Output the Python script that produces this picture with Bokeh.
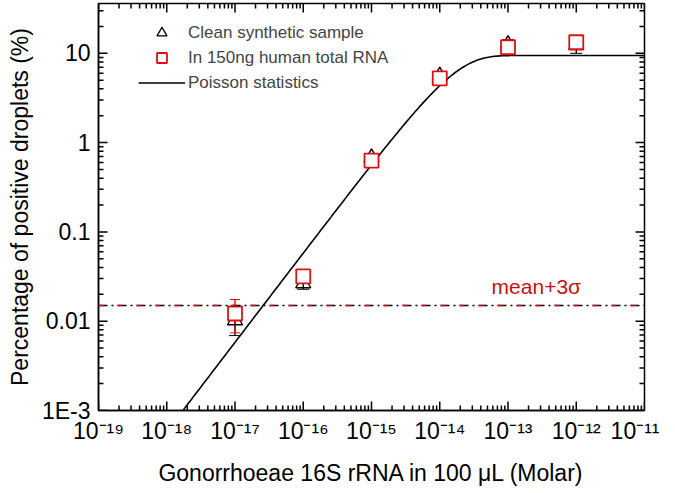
import numpy as np
from bokeh.plotting import figure
from bokeh.models import (Legend, LegendItem, Span, Label, Whisker, FixedTicker,
                          ColumnDataSource, Range1d, CustomJSTickFormatter)
from bokeh.embed import file_html
from bokeh.resources import INLINE

# ---- data ----
conc = [1e-17, 1e-16, 1e-15, 1e-14, 1e-13, 1e-12]          # Molar
clean = [0.0102, 0.0265, 0.68, 5.6, 12.6, 12.3]             # % positive droplets
clean_lo = [0.0069, 0.0228, 0.63, 5.3, 11.5, 10.0]
clean_hi = [0.0130, 0.0290, 0.74, 6.0, 14.2, 13.5]
rna = [0.0122, 0.0317, 0.63, 5.25, 11.7, 13.3]
rna_lo = [0.0074, 0.0295, 0.59, 5.0, 11.0, 12.2]
rna_hi = [0.0175, 0.0345, 0.68, 5.6, 12.5, 14.6]
threshold = 0.015        # mean + 3 sigma (%)
plateau = 9.45           # Poisson saturation level (%)
slope = 5.8e14           # initial slope (% per Molar)

x_major = [1e-19, 1e-18, 1e-17, 1e-16, 1e-15, 1e-14, 1e-13, 1e-12, 1e-11]
x_labels = ["10\u207b\u00b9\u2079", "10\u207b\u00b9\u2078", "10\u207b\u00b9\u2077",
            "10\u207b\u00b9\u2076", "10\u207b\u00b9\u2075", "10\u207b\u00b9\u2074",
            "10\u207b\u00b9\u00b3", "10\u207b\u00b9\u00b2", "10\u207b\u00b9\u00b9"]
y_major = [1e-3, 1e-2, 1e-1, 1, 10]
y_labels = ["1E-3", "0.01", "0.1", "1", "10"]
x_lim = (1e-19, 1e-11)
y_lim = (1e-3, 10 ** 1.558)

FONT = "Liberation Sans"

# Poisson model curve
xc = np.logspace(-19, -11, 400)
yc = plateau * (1 - np.exp(-slope / plateau * xc))

p = figure(width=659, height=490, x_axis_type="log", y_axis_type="log",
           x_range=Range1d(*x_lim), y_range=Range1d(*y_lim),
           output_backend="svg", toolbar_location=None, tools="",
           min_border_left=98, min_border_right=15, min_border_top=3,
           min_border_bottom=80)
p.grid.visible = False
p.outline_line_color = "black"
p.outline_line_width = 1.5
p.background_fill_color = "white"
p.border_fill_color = "white"

x_minor = [m * 10.0 ** k for k in range(-19, -11) for m in range(2, 10)]
y_minor = [m * 10.0 ** k for k in range(-3, 2) for m in range(2, 10)]

LABEL_JS = """
let best = 0, bd = Infinity;
for (let i = 0; i < vals.length; i++) {
  const d = Math.abs(Math.log10(tick) - Math.log10(vals[i]));
  if (d < bd) { bd = d; best = i; }
}
return bd < 0.01 ? labels[best] : "";
"""


def style(ax, major, labels):
    ax.ticker = FixedTicker(ticks=major)
    ax.axis_line_width = 1.5
    ax.major_tick_in = 0
    ax.major_tick_out = 0
    ax.minor_tick_in = 0
    ax.minor_tick_out = 0
    ax.major_label_text_font = FONT
    ax.major_label_text_font_size = "23px"
    ax.major_label_text_color = "black"
    ax.axis_label_text_font = FONT
    ax.axis_label_text_font_size = "23px"
    ax.axis_label_text_font_style = "normal"
    ax.axis_label_text_color = "black"
    ax.formatter = CustomJSTickFormatter(args=dict(vals=major, labels=labels),
                                         code=LABEL_JS)


style(p.xaxis[0], x_major, x_labels)
style(p.yaxis[0], y_major, y_labels)
p.xaxis[0].axis_label = "Gonorrhoeae 16S rRNA in 100 \u03bcL (Molar)"
p.yaxis[0].axis_label = "Percentage of positive droplets (%)"
p.xaxis[0].major_label_standoff = 7
p.xaxis[0].axis_label_standoff = 13
p.yaxis[0].major_label_standoff = 8
p.yaxis[0].axis_label_standoff = 6

# inward ticks on all four sides (half of each dash is clipped by the frame)
tick_kw = dict(marker="dash", line_color="black", line_width=1.5)
for xs, sz in ((x_major, 18), (x_minor, 10)):
    p.scatter(xs, [y_lim[0]] * len(xs), angle=np.pi / 2, size=sz, **tick_kw)
    p.scatter(xs, [y_lim[1]] * len(xs), angle=np.pi / 2, size=sz, **tick_kw)
for ys, sz in ((y_major, 18), (y_minor, 10)):
    p.scatter([x_lim[0]] * len(ys), ys, size=sz, **tick_kw)
    p.scatter([x_lim[1]] * len(ys), ys, size=sz, **tick_kw)

# threshold line
p.add_layout(Span(location=threshold, dimension="width", line_color="black",
                  line_width=1.3, line_dash="9 4 2 4"))
p.add_layout(Span(location=threshold, dimension="width", line_color="#d01010",
                  line_width=1.3, line_dash="5 14"))
p.add_layout(Label(x=2.6e-13, y=threshold, y_offset=7, text="mean+3\u03c3",
                   text_align="center", text_baseline="bottom",
                   text_font=FONT, text_font_size="21px", text_color="#c81010"))

line = p.line(xc, yc, line_color="black", line_width=1.6)

src = ColumnDataSource(dict(x=conc, clean=clean, clo=clean_lo, chi=clean_hi,
                            rna=rna, rlo=rna_lo, rhi=rna_hi))
tri = p.scatter("x", "clean", source=src, marker="triangle", size=15,
                fill_color=None, line_color="black", line_width=1.4)
wb = Whisker(base="x", lower="clo", upper="chi", source=src, dimension="height",
             line_color="black", line_width=1.4)
wb.upper_head.line_color = "black"
wb.lower_head.line_color = "black"
wb.upper_head.size = 12
wb.lower_head.size = 12
p.add_layout(wb)
sq = p.scatter("x", "rna", source=src, marker="square", size=14,
               fill_color="white", line_color="#e01010", line_width=1.8)
wr = Whisker(base="x", lower="rlo", upper="rhi", source=src, dimension="height",
             line_color="#e01010", line_width=1.4)
wr.upper_head.line_color = "#e01010"
wr.lower_head.line_color = "#e01010"
wr.upper_head.size = 10
wr.lower_head.size = 10
p.add_layout(wr)

legend = Legend(items=[LegendItem(label="Clean synthetic sample", renderers=[tri]),
                       LegendItem(label="In 150ng human total RNA", renderers=[sq]),
                       LegendItem(label="Poisson statistics", renderers=[line])],
                location=(40, 315), padding=0, margin=0, spacing=0,
                glyph_width=47, glyph_height=25, label_height=25,
                label_standoff=3, label_text_font=FONT,
                label_text_font_size="17px", border_line_color=None,
                background_fill_alpha=0)
p.add_layout(legend)

open("out.html", "w").write(file_html(p, INLINE))
